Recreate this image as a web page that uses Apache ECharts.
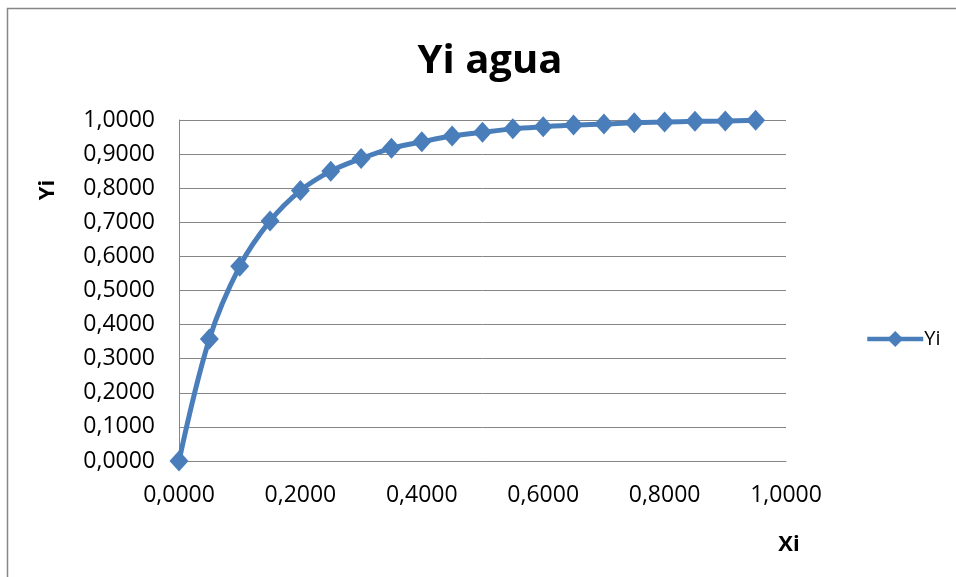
<!DOCTYPE html>
<html>
<head>
<meta charset="utf-8">
<script src="https://cdn.jsdelivr.net/npm/echarts@6/dist/echarts.min.js"></script>
<style>
html,body{margin:0;padding:0;background:#fff;}
#chart{width:956px;height:577px;}
</style>
</head>
<body>
<div id="chart"></div>
<script>
var xValues = [0.00, 0.05, 0.10, 0.15, 0.20, 0.25, 0.30, 0.35, 0.40, 0.45, 0.50, 0.55, 0.60, 0.65, 0.70, 0.75, 0.80, 0.85, 0.90, 0.95];
var yValues = [0.0000, 0.3580, 0.5710, 0.7040, 0.7930, 0.8500, 0.8870, 0.9170, 0.9360, 0.9530, 0.9640, 0.9740, 0.9800, 0.9850, 0.9880, 0.9920, 0.9940, 0.9960, 0.9970, 0.9990];
var seriesName = 'Yi';
var titleText = 'Yi agua';
var xName = 'Xi';
var yName = 'Yi';

var FONT = '"Open Sans", "Liberation Sans", sans-serif';
var BLUE = '#4a7ebb';
function fmt(v){ return v.toFixed(4).replace('.', ','); }

var points = xValues.map(function(x, i){ return [x, yValues[i]]; });

var chart = echarts.init(document.getElementById('chart'), null, {renderer:'canvas'});
chart.setOption({
  animation: false,
  backgroundColor: '#fff',
  textStyle: {fontFamily: FONT},
  title: {
    text: titleText,
    left: 485, top: 37, textAlign: 'center',
    textStyle: {fontFamily: FONT, fontSize: 40, fontWeight: 'bold', color: '#000'}
  },
  legend: {
    data: [seriesName],
    left: 860, top: 324,
    itemWidth: 56, itemHeight: 20,
    itemGap: 4,
    lineStyle: {width: 4.5},
    textStyle: {fontFamily: FONT, fontSize: 20, color: '#000', padding: [0,0,0,-4]}
  },
  graphic: [{
    type: 'rect', z: -1,
    shape: {x: 7.5, y: 8.5, width: 1000, height: 700},
    style: {fill: 'none', stroke: '#868686', lineWidth: 1.5}
  }, {
    type: 'text', x: 37, y: 190, rotation: Math.PI / 2,
    style: {text: yName, fontFamily: FONT, fontSize: 22, fontWeight: 'bold', fill: '#000', align: 'center', verticalAlign: 'top'}
  }, {
    type: 'text', x: 789, y: 545,
    style: {text: xName, fontFamily: FONT, fontSize: 22, fontWeight: 'bold', fill: '#000', align: 'center', verticalAlign: 'middle'}
  }],
  grid: {left: 179, right: 170, top: 120, bottom: 116, containLabel: false, outerBoundsMode: 'none'},
  xAxis: {
    type: 'value', min: 0, max: 1, interval: 0.2,
    axisLine: {show: true, lineStyle: {color: '#868686', width: 1}},
    axisTick: {show: false},
    splitLine: {show: false},
    axisLabel: {formatter: fmt, fontFamily: FONT, fontSize: 23, color: '#000', margin: 23}
  },
  yAxis: {
    type: 'value', min: 0, max: 1, interval: 0.1,
    axisLine: {show: true, lineStyle: {color: '#868686', width: 1}},
    axisTick: {show: false},
    splitLine: {show: true, lineStyle: {color: '#868686', width: 1}},
    axisLabel: {formatter: fmt, fontFamily: FONT, fontSize: 23, color: '#000', margin: 24}
  },
  series: [{
    name: seriesName,
    type: 'line',
    data: points,
    smooth: 0.35,
    symbol: 'diamond',
    symbolSize: [19, 21],
    itemStyle: {color: BLUE},
    lineStyle: {color: BLUE, width: 5},
    clip: false
  }]
});
</script>
</body>
</html>
